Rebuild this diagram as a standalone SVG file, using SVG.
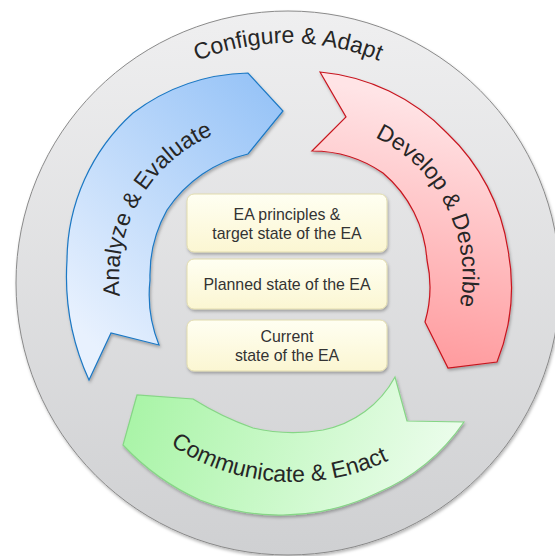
<svg xmlns="http://www.w3.org/2000/svg" width="555" height="556" viewBox="0 0 555 556">
<defs>
  <linearGradient id="gDisc" x1="0" y1="0" x2="0" y2="1">
    <stop offset="0" stop-color="#efeff0"/>
    <stop offset="1" stop-color="#cfd0d2"/>
  </linearGradient>
  <linearGradient id="gBlue" gradientUnits="userSpaceOnUse" x1="70" y1="320" x2="285" y2="110">
    <stop offset="0" stop-color="#e8f1fe"/>
    <stop offset="1" stop-color="#98c4f7"/>
  </linearGradient>
  <linearGradient id="gRed" gradientUnits="userSpaceOnUse" x1="470" y1="110" x2="420" y2="370">
    <stop offset="0" stop-color="#ffe4e6"/>
    <stop offset="1" stop-color="#ff999c"/>
  </linearGradient>
  <linearGradient id="gGreen" gradientUnits="userSpaceOnUse" x1="130" y1="395" x2="440" y2="500">
    <stop offset="0" stop-color="#a8f4a6"/>
    <stop offset="1" stop-color="#ecfdec"/>
  </linearGradient>
  <linearGradient id="gBox" x1="0" y1="0" x2="0" y2="1">
    <stop offset="0" stop-color="#fffff2"/>
    <stop offset="1" stop-color="#fbf6d2"/>
  </linearGradient>
  <filter id="sh" x="-10%" y="-10%" width="125%" height="125%">
    <feDropShadow dx="1" dy="2" stdDeviation="1.5" flood-color="#000" flood-opacity="0.28"/>
  </filter>
  <path id="pTop" d="M48,283 A240,240 0 0 1 528,283"/>
  <path id="pBlue" d="M197,413.1 A156,156 0 0 1 353,142.9"/>
  <path id="pRed" d="M242.3,138.3 A153,153 0 0 1 379.7,411.7"/>
  <path id="pGreen" d="M71.5,244.5 A222,222 0 0 0 514.5,275.5"/>
</defs>
<style>
  .lbl { font-family: "Liberation Sans", Arial, sans-serif; font-size: 23px; fill: #262626; }
  .box { fill: url(#gBox); stroke: #e2dcae; stroke-width: 1; filter: url(#sh); }
  .bt { font-family: "Liberation Sans", Arial, sans-serif; font-size: 15.9px; fill: #333333; text-anchor: middle; }
  .arrow { stroke-width: 1.2; stroke-linejoin: miter; filter: url(#sh); }
</style>
<rect width="555" height="556" fill="#ffffff"/>

<g id="configure-adapt">
  <circle cx="288" cy="283" r="272" fill="url(#gDisc)" stroke="#8a8a8a" stroke-width="1" filter="url(#sh)"/>
  <text class="lbl"><textPath href="#pTop" startOffset="50%" text-anchor="middle">Configure &amp; Adapt</textPath></text>
</g>

<g id="analyze-evaluate">
  <path class="arrow" fill="url(#gBlue)" stroke="#1b78c4" d="M89,380 A250,250 0 0 1 67,260 A200,200 0 0 1 133,113 A200,200 0 0 1 248,73 L283,111 L248,154 A134,134 0 0 0 167,210 A134,134 0 0 0 150,280 A134,134 0 0 0 159,345 L111,333 Z"/>
  <text class="lbl"><textPath href="#pBlue" startOffset="50%" text-anchor="middle">Analyze &amp; Evaluate</textPath></text>
</g>

<g id="develop-describe">
  <path class="arrow" fill="url(#gRed)" stroke="#c8141e" d="M320,72 A202,202 0 0 1 447,133 A202,202 0 0 1 508,250 A202,202 0 0 1 497,362 L448,368 L425,322 A125,125 0 0 0 427,260 A125,125 0 0 0 383,173 A125,125 0 0 0 312,151 L346,117 Z"/>
  <text class="lbl"><textPath href="#pRed" startOffset="50%" text-anchor="middle">Develop &amp; Describe</textPath></text>
</g>

<g id="communicate-enact">
  <path class="arrow" fill="url(#gGreen)" stroke="#86d686" d="M464,422 A200,200 0 0 1 377,493 A220,220 0 0 1 283,515 A215,215 0 0 1 200,500 A240,240 0 0 1 123,445 L137,395 L193,399 A300,300 0 0 0 253,428 A180,180 0 0 0 323,430 A105,105 0 0 0 395,377 L407,421 Z"/>
  <text class="lbl"><textPath href="#pGreen" startOffset="50%" text-anchor="middle">Communicate &amp; Enact</textPath></text>
</g>

<g id="box-principles">
  <rect class="box" x="187" y="194" width="200" height="58" rx="7"/>
  <text class="bt" x="287" y="220">EA principles &amp;</text>
  <text class="bt" x="287" y="238.5">target state of the EA</text>
</g>

<g id="box-planned">
  <rect class="box" x="187" y="259" width="200" height="50" rx="7"/>
  <text class="bt" x="287" y="290">Planned state of the EA</text>
</g>

<g id="box-current">
  <rect class="box" x="187" y="320" width="200" height="51" rx="7"/>
  <text class="bt" x="287" y="342">Current</text>
  <text class="bt" x="287" y="360.5">state of the EA</text>
</g>

<g id="connectors"></g>
</svg>
